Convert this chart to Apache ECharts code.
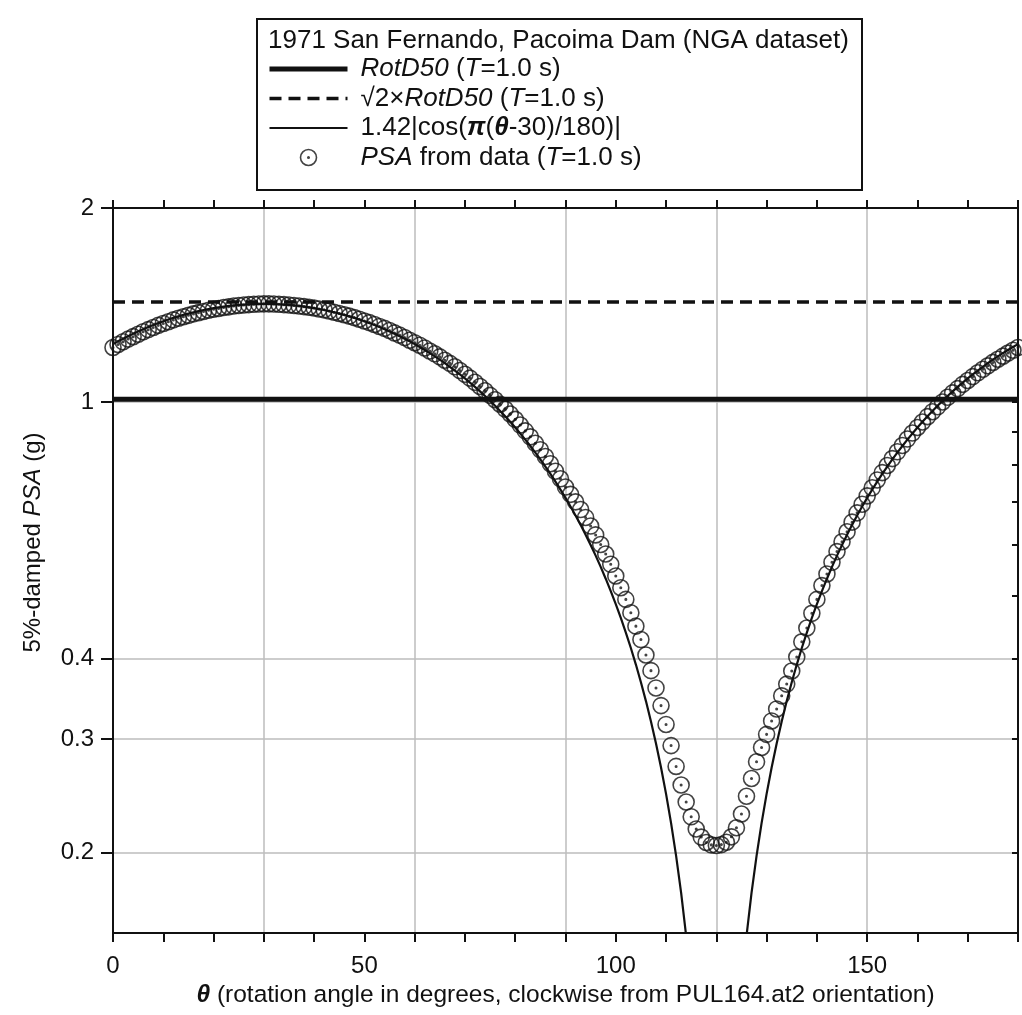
<!DOCTYPE html>
<html>
<head>
<meta charset="utf-8">
<script src="https://cdn.jsdelivr.net/npm/echarts@6/dist/echarts.min.js"></script>
<style>
  html, body { margin: 0; padding: 0; background: #fff; }
  #chart { width: 1022px; height: 1015px; }
</style>
</head>
<body>
<div id="chart"></div>
<script>
// rotation angle, degrees
const theta = [
  0, 1, 2, 3, 4, 5, 6, 7, 8, 9,
  10, 11, 12, 13, 14, 15, 16, 17, 18, 19,
  20, 21, 22, 23, 24, 25, 26, 27, 28, 29,
  30, 31, 32, 33, 34, 35, 36, 37, 38, 39,
  40, 41, 42, 43, 44, 45, 46, 47, 48, 49,
  50, 51, 52, 53, 54, 55, 56, 57, 58, 59,
  60, 61, 62, 63, 64, 65, 66, 67, 68, 69,
  70, 71, 72, 73, 74, 75, 76, 77, 78, 79,
  80, 81, 82, 83, 84, 85, 86, 87, 88, 89,
  90, 91, 92, 93, 94, 95, 96, 97, 98, 99,
  100, 101, 102, 103, 104, 105, 106, 107, 108, 109,
  110, 111, 112, 113, 114, 115, 116, 117, 118, 119,
  120, 121, 122, 123, 124, 125, 126, 127, 128, 129,
  130, 131, 132, 133, 134, 135, 136, 137, 138, 139,
  140, 141, 142, 143, 144, 145, 146, 147, 148, 149,
  150, 151, 152, 153, 154, 155, 156, 157, 158, 159,
  160, 161, 162, 163, 164, 165, 166, 167, 168, 169,
  170, 171, 172, 173, 174, 175, 176, 177, 178, 179,
  180
];

// PSA from data (g)
const psa = [
  1.215, 1.228, 1.240, 1.252, 1.263, 1.274, 1.285, 1.295, 1.305, 1.315,
  1.324, 1.332, 1.341, 1.349, 1.356, 1.363, 1.370, 1.376, 1.382, 1.388,
  1.393, 1.397, 1.402, 1.405, 1.409, 1.412, 1.414, 1.416, 1.418, 1.419,
  1.420, 1.420, 1.419, 1.418, 1.416, 1.414, 1.412, 1.409, 1.406, 1.403,
  1.399, 1.394, 1.390, 1.384, 1.378, 1.372, 1.366, 1.359, 1.352, 1.344,
  1.336, 1.328, 1.319, 1.310, 1.301, 1.291, 1.280, 1.270, 1.259, 1.247,
  1.236, 1.225, 1.213, 1.200, 1.188, 1.175, 1.161, 1.148, 1.134, 1.119,
  1.104, 1.089, 1.073, 1.057, 1.041, 1.024, 1.008, 0.992, 0.975, 0.958,
  0.940, 0.921, 0.902, 0.883, 0.863, 0.843, 0.823, 0.802, 0.781, 0.760,
  0.738, 0.719, 0.700, 0.681, 0.662, 0.642, 0.622, 0.601, 0.581, 0.560,
  0.537, 0.515, 0.494, 0.471, 0.449, 0.428, 0.405, 0.383, 0.360, 0.338,
  0.316, 0.293, 0.272, 0.2545, 0.2395, 0.2272, 0.2175, 0.2113, 0.2073, 0.2055,
  0.205, 0.2057, 0.2075, 0.2115, 0.2185, 0.2295, 0.2445, 0.2605, 0.2765, 0.291,
  0.305, 0.320, 0.334, 0.350, 0.365, 0.3825, 0.402, 0.4245, 0.446, 0.470,
  0.494, 0.519, 0.541, 0.564, 0.586, 0.607, 0.629, 0.651, 0.673, 0.694,
  0.715, 0.736, 0.757, 0.777, 0.797, 0.817, 0.837, 0.856, 0.876, 0.895,
  0.913, 0.931, 0.949, 0.966, 0.983, 1.000, 1.017, 1.033, 1.049, 1.065,
  1.080, 1.095, 1.110, 1.124, 1.138, 1.152, 1.165, 1.178, 1.191, 1.203,
  1.215
];

// 1.42|cos(pi(theta-30)/180)| curve (g); null where it is zero, far below the axis
const cosFit = [
  1.2298, 1.2420, 1.2538, 1.2652, 1.2763, 1.2870, 1.2972, 1.3071, 1.3166, 1.3257,
  1.3344, 1.3426, 1.3505, 1.3579, 1.3650, 1.3716, 1.3778, 1.3836, 1.3890, 1.3939,
  1.3984, 1.4025, 1.4062, 1.4094, 1.4122, 1.4146, 1.4165, 1.4181, 1.4191, 1.4198,
  1.4200, 1.4198, 1.4191, 1.4181, 1.4165, 1.4146, 1.4122, 1.4094, 1.4062, 1.4025,
  1.3984, 1.3939, 1.3890, 1.3836, 1.3778, 1.3716, 1.3650, 1.3579, 1.3505, 1.3426,
  1.3344, 1.3257, 1.3166, 1.3071, 1.2972, 1.2870, 1.2763, 1.2652, 1.2538, 1.2420,
  1.2298, 1.2172, 1.2042, 1.1909, 1.1772, 1.1632, 1.1488, 1.1341, 1.1190, 1.1036,
  1.0878, 1.0717, 1.0553, 1.0385, 1.0215, 1.0041, 0.9864, 0.9684, 0.9502, 0.9316,
  0.9128, 0.8936, 0.8742, 0.8546, 0.8347, 0.8145, 0.7941, 0.7734, 0.7525, 0.7314,
  0.7100, 0.6884, 0.6666, 0.6447, 0.6225, 0.6001, 0.5776, 0.5548, 0.5319, 0.5089,
  0.4857, 0.4623, 0.4388, 0.4152, 0.3914, 0.3675, 0.3435, 0.3194, 0.2952, 0.2710,
  0.2466, 0.2221, 0.1976, 0.1731, 0.1484, 0.1238, 0.0991, 0.0743, 0.0496, 0.0248,
  null, 0.0248, 0.0496, 0.0743, 0.0991, 0.1238, 0.1484, 0.1731, 0.1976, 0.2221,
  0.2466, 0.2710, 0.2952, 0.3194, 0.3435, 0.3675, 0.3914, 0.4152, 0.4388, 0.4623,
  0.4857, 0.5089, 0.5319, 0.5548, 0.5776, 0.6001, 0.6225, 0.6447, 0.6666, 0.6884,
  0.7100, 0.7314, 0.7525, 0.7734, 0.7941, 0.8145, 0.8347, 0.8546, 0.8742, 0.8936,
  0.9128, 0.9316, 0.9502, 0.9684, 0.9864, 1.0041, 1.0215, 1.0385, 1.0553, 1.0717,
  1.0878, 1.1036, 1.1190, 1.1341, 1.1488, 1.1632, 1.1772, 1.1909, 1.2042, 1.2172,
  1.2298
];

const rotD50 = 1.01;      // RotD50 (T=1.0 s)
const rotD50Sqrt2 = 1.43; // sqrt(2) x RotD50

const xLabelValues = [0, 50, 100, 150];
const yLabelValues = [0.2, 0.3, 0.4, 1, 2];
const yRightTicks = [0.2, 0.3, 0.4, 0.5, 0.6, 0.7, 0.8, 0.9, 1, 2];

const FONT = '"Liberation Sans", Arial, Helvetica, sans-serif';
const INK = '#111';

const legendText = {
  RotD50: '{i|RotD50} ({i|T}=1.0 s)',
  sqrt2: '√2×{i|RotD50} ({i|T}=1.0 s)',
  cosFit: '1.42|cos({b|π}({b|θ}-30)/180)|',
  PSA: '{i|PSA} from data ({i|T}=1.0 s)'
};

// open ring with a small dot in the middle
const ringDot = 'path://M10,0A10,10,0,1,1,-10,0A10,10,0,1,1,10,0ZM0.9,0A0.9,0.9,0,1,1,-0.9,0A0.9,0.9,0,1,1,0.9,0Z';

let chart = echarts.init(document.getElementById('chart'), null, { renderer: 'canvas' });

chart.setOption({
  animation: false,
  backgroundColor: '#fff',
  textStyle: { fontFamily: FONT, color: INK },
  grid: { left: 113, right: 4, top: 208, bottom: 82, containLabel: false },
  graphic: [
    {
      type: 'rect', z: 1,
      shape: { x: 257, y: 19, width: 605, height: 171 },
      style: { fill: '#fff', stroke: INK, lineWidth: 2 }
    },
    {
      type: 'text', z: 2, x: 268, y: 41,
      style: {
        text: '1971 San Fernando, Pacoima Dam (NGA dataset)',
        font: '26px ' + FONT, fill: INK, verticalAlign: 'middle', align: 'left'
      }
    }
  ],
  legend: {
    orient: 'vertical',
    left: 267, top: 56,
    padding: 0,
    itemWidth: 78, itemHeight: 16, itemGap: 3.5,
    selectedMode: false,
    textStyle: {
      fontFamily: FONT, fontSize: 26, color: INK, lineHeight: 26,
      padding: [0, 0, 0, 8],
      rich: {
        i: { fontFamily: FONT, fontSize: 26, fontStyle: 'italic', color: INK },
        b: { fontFamily: FONT, fontSize: 26, fontStyle: 'italic', fontWeight: 'bold', color: INK }
      }
    },
    formatter: name => legendText[name],
    data: [
      { name: 'RotD50', itemStyle: { opacity: 0 }, lineStyle: { width: 5 } },
      { name: 'sqrt2', itemStyle: { opacity: 0 }, lineStyle: { width: 3.5, type: [12, 7] } },
      { name: 'cosFit', itemStyle: { opacity: 0 }, lineStyle: { width: 2 } },
      { name: 'PSA', itemStyle: { borderWidth: 1.6 } }
    ]
  },
  xAxis: [
    {
      type: 'value', position: 'bottom', min: 0, max: 180, interval: 10,
      axisLine: { show: true, onZero: false, lineStyle: { color: INK, width: 2 } },
      axisTick: { show: true, inside: false, length: 9, lineStyle: { color: INK, width: 2 } },
      axisLabel: { customValues: xLabelValues, fontSize: 24, color: INK, fontFamily: FONT, margin: 21 },
      splitLine: { show: false },
      name: '{b|θ} (rotation angle in degrees, clockwise from PUL164.at2 orientation)',
      nameLocation: 'middle', nameGap: 47,
      nameTextStyle: {
        fontSize: 24.5, fontFamily: FONT, color: INK,
        rich: { b: { fontSize: 24.5, fontFamily: FONT, fontStyle: 'italic', fontWeight: 'bold', color: INK } }
      }
    },
    {
      type: 'value', position: 'top', min: 0, max: 180, interval: 10,
      axisLine: { show: true, onZero: false, lineStyle: { color: INK, width: 2 } },
      axisTick: { show: true, inside: false, length: 8, lineStyle: { color: INK, width: 2 } },
      axisLabel: { show: false },
      splitLine: { show: false }
    },
    {
      // vertical grid lines every 30 degrees
      type: 'value', position: 'bottom', min: 0, max: 180, interval: 30,
      axisLine: { show: false }, axisTick: { show: false }, axisLabel: { show: false },
      splitLine: { show: true, lineStyle: { color: '#bdbdbd', width: 1.5 } }
    }
  ],
  yAxis: [
    {
      type: 'log', logBase: 10, position: 'left', min: 0.15, max: 2,
      axisLine: { show: true, onZero: false, lineStyle: { color: INK, width: 2 } },
      axisTick: { show: true, inside: false, length: 12, customValues: yLabelValues, lineStyle: { color: INK, width: 2 } },
      axisLabel: { customValues: yLabelValues, fontSize: 24, color: INK, fontFamily: FONT, margin: 19, formatter: v => String(v) },
      splitLine: { show: true, lineStyle: { color: '#bdbdbd', width: 1.5 } },
      name: '5%-damped {i|PSA} (g)',
      nameLocation: 'middle', nameGap: 68,
      nameTextStyle: {
        fontSize: 24, fontFamily: FONT, color: INK, padding: [0, 0, 0, 56],
        rich: { i: { fontSize: 24, fontFamily: FONT, fontStyle: 'italic', color: INK } }
      }
    },
    {
      type: 'log', logBase: 10, position: 'right', min: 0.15, max: 2,
      axisLine: { show: true, onZero: false, lineStyle: { color: INK, width: 2 } },
      axisTick: { show: true, inside: true, length: 6, customValues: yRightTicks, lineStyle: { color: INK, width: 2 } },
      axisLabel: { show: false },
      splitLine: { show: false }
    }
  ],
  series: [
    {
      name: 'PSA', type: 'scatter', xAxisIndex: 0, yAxisIndex: 0,
      symbol: ringDot, symbolSize: 16,
      itemStyle: { color: 'rgba(0,0,0,0)', borderColor: '#141414', borderWidth: 1.6 },
      data: theta.map((t, i) => [t, psa[i]]),
      z: 2
    },
    {
      name: 'cosFit', type: 'line', xAxisIndex: 0, yAxisIndex: 0,
      symbol: 'none', smooth: false, connectNulls: false, clip: true,
      lineStyle: { color: INK, width: 2.2 },
      data: theta.map((t, i) => [t, cosFit[i]]),
      z: 3
    },
    {
      name: 'RotD50', type: 'line', xAxisIndex: 0, yAxisIndex: 0,
      symbol: 'none',
      lineStyle: { color: INK, width: 5 },
      data: [[theta[0], rotD50], [theta[theta.length - 1], rotD50]],
      z: 4
    },
    {
      name: 'sqrt2', type: 'line', xAxisIndex: 0, yAxisIndex: 0,
      symbol: 'none',
      lineStyle: { color: INK, width: 3.5, type: [12, 7] },
      data: [[theta[0], rotD50Sqrt2], [theta[theta.length - 1], rotD50Sqrt2]],
      z: 4
    }
  ]
});
</script>
</body>
</html>
